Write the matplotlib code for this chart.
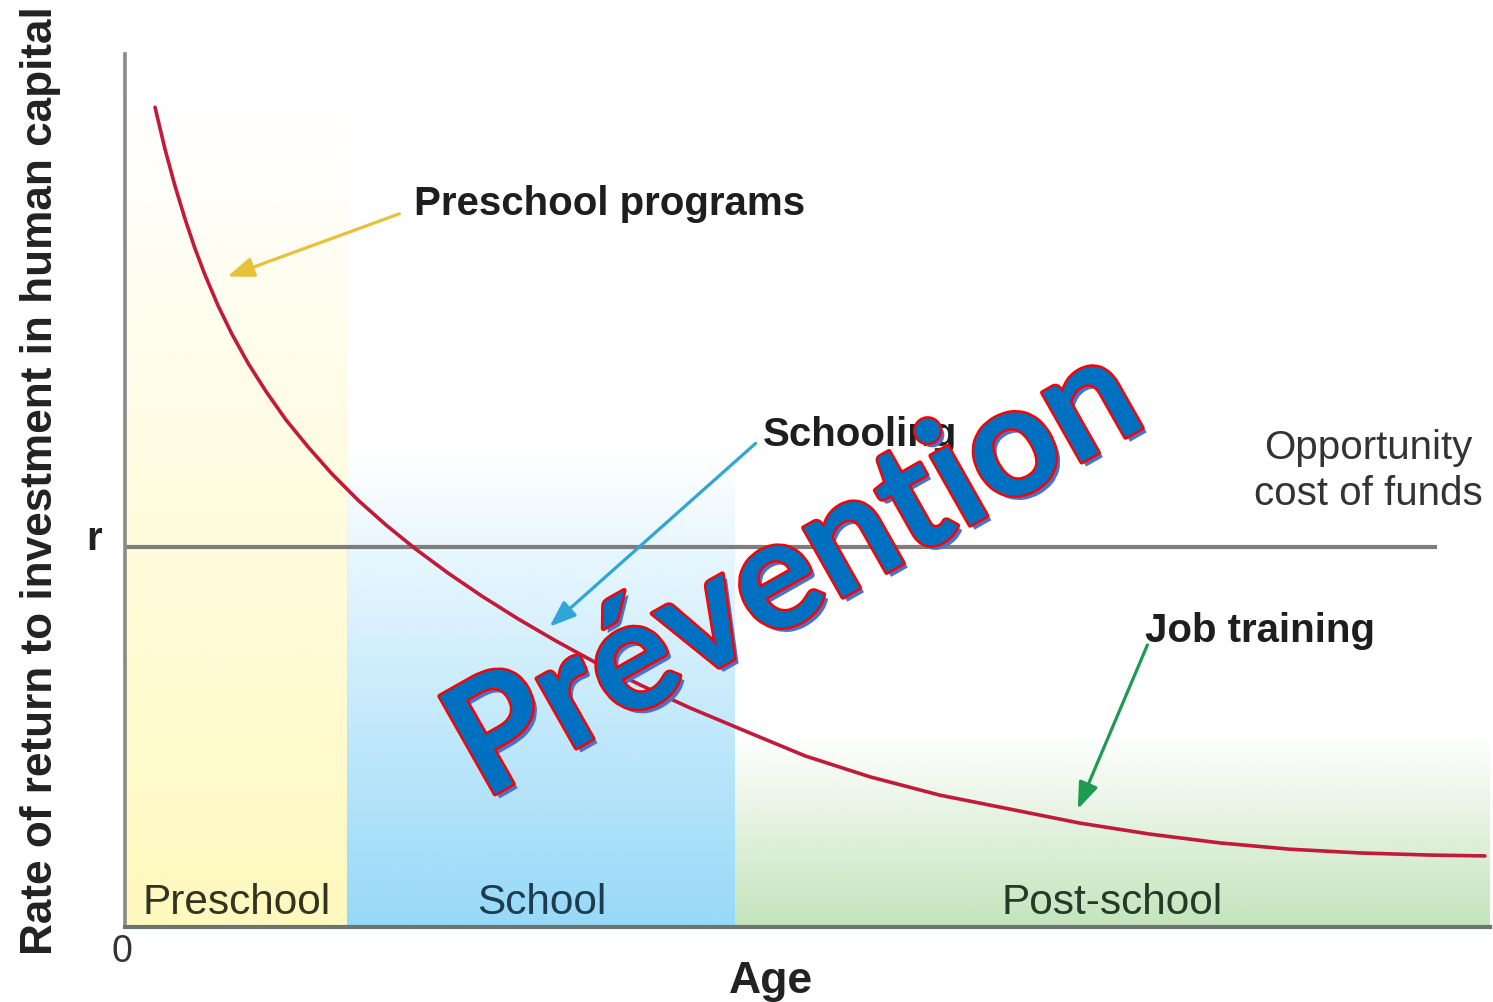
import numpy as np
import matplotlib
matplotlib.use('Agg')
import matplotlib.pyplot as plt
import matplotlib.patheffects as pe
from matplotlib.colors import to_rgb

# Heckman curve, values (age 0-100, return 0-100)
age = [2.20, 2.93, 3.66, 4.40, 5.13, 5.86, 6.81, 7.84, 9.01, 10.33, 11.79,
       13.41, 15.16, 17.07, 19.12, 21.32, 23.66, 26.15, 28.79, 31.58, 34.51,
       37.73, 41.39, 45.42, 49.82, 54.58, 59.71, 64.84, 69.96, 75.09, 80.22,
       85.35, 90.48, 95.60, 99.63]
rate_of_return = [93.9, 89.1, 84.9, 81.1, 77.7, 74.7, 71.2, 67.9, 64.6, 61.35,
                  58.1, 55.0, 51.9, 48.9, 46.05, 43.26, 40.55, 37.9, 35.3, 32.76,
                  30.26, 27.74, 25.1, 22.46, 19.6, 17.2, 15.1, 13.5, 11.9, 10.64,
                  9.63, 8.91, 8.48, 8.24, 8.14]

r_level = 43.5
r_line_end = 96.1

stage_names = ['Preschool', 'School', 'Post-school']
stage_edges = [0, 16.3, 44.7, 100]
stage_colors = ['#FFF9BE', '#96D9F8', '#C4E4BC']
stage_fade_top = [95, 55, 22]
stage_label_colors = ['#33331f', '#1d3d4f', '#263a28']

# annotation label, label position (left, baseline), arrow tail, arrow head, colour
notes = [
    ('Preschool programs', (21.2, 81.7), (20.1, 81.7), (7.5, 74.5), '#E8C03A'),
    ('Schooling', (46.7, 55.2), (46.2, 55.4), (31.1, 34.4), '#2FA6D6'),
    ('Job training', (74.7, 32.8), (74.9, 32.3), (69.8, 13.5), '#1E9A52'),
]

W, H = 1493, 1003


def gradient_block(ax, x0, x1, top, color):
    """Vertical fade from white (top) to color (bottom)."""
    n = 256
    rgba = np.zeros((n, 1, 4))
    rgba[:, 0, :3] = to_rgb(color)
    rgba[:, 0, 3] = np.linspace(1, 0, n)
    ax.imshow(rgba, extent=(x0, x1, 0, top), origin='lower',
              aspect='auto', interpolation='bilinear', zorder=0)


fig = plt.figure(figsize=(W / 100, H / 100), dpi=100)
ax = fig.add_axes([125 / W, 75 / H, 1365 / W, 873 / H])
ax.set_xlim(0, 100)
ax.set_ylim(0, 100)

for i, name in enumerate(stage_names):
    x0, x1 = stage_edges[i], stage_edges[i + 1]
    gradient_block(ax, x0, x1, stage_fade_top[i], stage_colors[i])
    ax.text((x0 + x1) / 2, 1.6, name, ha='center', va='baseline',
            fontsize=30.5, family='Liberation Sans', color=stage_label_colors[i],
            zorder=3)

ax.plot([0, r_line_end], [r_level, r_level], color='#7d7d7d', lw=3, zorder=2,
        solid_capstyle='butt')
ax.plot(age, rate_of_return, color='#C21A38', lw=2.6, zorder=4,
        solid_capstyle='round', solid_joinstyle='round')

for label, pos, tail, head, col in notes:
    ax.annotate('', xy=head, xytext=tail,
                arrowprops=dict(arrowstyle='-|>,head_length=1.6,head_width=0.6',
                                color=col, lw=2.3, shrinkA=0, shrinkB=0),
                zorder=5)
    ax.text(pos[0], pos[1], label, ha='left', va='baseline', fontsize=29,
            family='Liberation Sans', weight='bold', color='#1e1e1e', zorder=5)

ax.text(91.1, 53.7, 'Opportunity', ha='center', va='baseline', fontsize=29,
        family='Liberation Sans', color='#333333')
ax.text(91.1, 48.5, 'cost of funds', ha='center', va='baseline', fontsize=29,
        family='Liberation Sans', color='#333333')

# axis decorations
for side in ['top', 'right']:
    ax.spines[side].set_visible(False)
ax.spines['left'].set_color('#8a8a8a')
ax.spines['left'].set_linewidth(2.6)
ax.spines['bottom'].set_color('#6c7670')
ax.spines['bottom'].set_linewidth(3)
ax.set_xticks([])
ax.set_yticks([])

ax.text(-2.3, 43.3, 'r', ha='center', va='baseline', fontsize=29,
        family='Liberation Sans', weight='bold', color='#222222', clip_on=False)
ax.text(-0.2, -3.9, '0', ha='center', va='baseline', fontsize=27,
        family='Liberation Sans', color='#333333', clip_on=False)
ax.text(47.3, -7.4, 'Age', ha='center', va='baseline', fontsize=32,
        family='Liberation Sans', weight='bold', color='#222222', clip_on=False)
ax.text(-5.35, 51.3, 'Rate of return to investment in human capital',
        rotation=90, rotation_mode='anchor', ha='center', va='baseline',
        fontsize=31.8, family='Liberation Sans', weight='bold', color='#222222',
        clip_on=False)

# big overlay word
ax.text(50.7, 36.1, 'Prévention', rotation=29.5, rotation_mode='anchor',
        ha='center', va='baseline', fontsize=112, family=['Lato', 'DejaVu Sans'],
        weight='bold', color='#0070C0', zorder=10, clip_on=False,
        path_effects=[pe.SimplePatchShadow(offset=(3.2, -3.2),
                                           shadow_rgbFace='#4A72CC', alpha=1.0),
                      pe.Stroke(linewidth=3.5, foreground='#FF0000'),
                      pe.Normal()])

fig.savefig('out.png', dpi=100)
